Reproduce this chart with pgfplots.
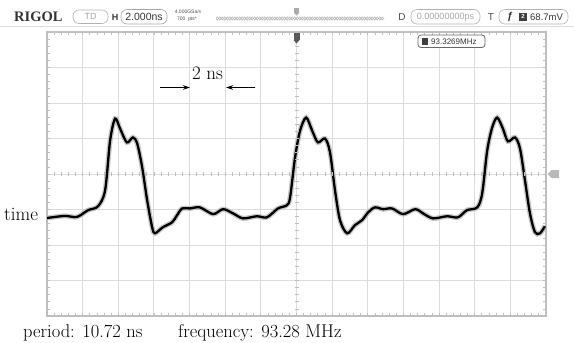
\documentclass[border=0pt]{standalone}
\usepackage{pgfplots}
\pgfplotsset{compat=1.18}
\usepackage{pgfplotstable}
\usepackage{fontspec}
\newfontfamily\osc{Liberation Sans}
\newfontfamily\rig{Liberation Serif}
\usetikzlibrary{decorations.pathmorphing,arrows.meta}
\definecolor{gridc}{HTML}{DCDCDC}
\definecolor{bordc}{HTML}{BEBEBE}
\pgfplotstableread{
x y
0.00 2.76
0.50 2.82
0.84 2.79
1.15 2.98
1.43 3.09
1.63 3.54
1.77 4.94
1.91 5.56
2.05 5.28
2.24 4.89
2.41 5.03
2.53 4.86
2.67 4.19
2.81 3.26
2.95 2.50
3.03 2.33
3.25 2.50
3.51 2.64
3.65 2.84
3.79 3.03
4.01 3.03
4.29 3.06
4.66 2.87
4.94 3.01
5.22 2.89
5.50 2.75
5.89 2.81
6.17 2.78
6.48 3.03
6.73 3.12
6.82 3.34
6.96 4.47
7.10 5.22
7.27 5.59
7.44 5.22
7.60 4.89
7.80 5.00
7.94 4.61
8.08 3.54
8.22 2.70
8.42 2.33
8.64 2.56
8.84 2.70
9.01 2.92
9.20 3.06
9.43 3.01
9.68 3.03
9.99 2.87
10.33 3.01
10.55 2.89
10.83 2.75
11.22 2.81
11.53 2.78
11.78 2.98
12.07 3.06
12.21 3.46
12.35 4.66
12.49 5.31
12.63 5.59
12.79 5.28
12.93 4.92
13.13 5.03
13.27 4.72
13.41 3.82
13.55 2.89
13.69 2.36
13.83 2.33
13.97 2.53
}\wave
\begin{document}
\begin{tikzpicture}
\begin{axis}[at={(47bp,-316bp)}, anchor=south west, scale only axis,
  width=499bp, height=284bp, xmin=0, xmax=14, ymin=0, ymax=8,
  xtick={0,...,14}, ytick={0,...,8}, xticklabels={}, yticklabels={},
  grid=major, major grid style={draw=gridc, line width=1bp},
  minor x tick num=4, minor y tick num=4, tick align=inside,
  major tick length=3bp, minor tick length=3bp,
  every tick/.style={draw=bordc, line width=0.8bp},
  axis line style={draw=bordc, line width=1.2bp}]
\addplot[gray!55, line width=5bp, smooth, opacity=0.8] table {\wave};
\addplot[black, line width=2.3bp, smooth] table {\wave};
\end{axis}
\begin{axis}[at={(47bp,-316bp)}, anchor=south west, scale only axis,
  width=499bp, height=284bp, xmin=-7, xmax=7, ymin=-4, ymax=4,
  axis lines=center, axis line style={draw=none},
  xtick={-6.8,-6.6,...,6.9}, ytick={-3.8,-3.6,...,3.9},
  xticklabels={}, yticklabels={},
  tick align=center, major tick length=4bp,
  every tick/.style={draw=bordc, line width=0.8bp}]
\addplot[draw=none] coordinates {(0,0)};
\end{axis}
\begin{scope}[x=1bp,y=-1bp]
\path[use as bounding box] (0,0) rectangle (574,342);
\draw[gridc, line width=0.8bp] (0,26.5) -- (574,26.5);
% top bar
\node[anchor=base west, inner sep=0, font=\rig\bfseries\fontsize{14.5bp}{15bp}\selectfont, text=black!80] at (14,21) {RIGOL};
\draw[gray!60, line width=0.6bp, rounded corners=6bp] (73,10) rectangle (108,23.5);
\node[font=\osc\fontsize{9bp}{9bp}\selectfont, text=gray!70] at (90.5,16.8) {TD};
\node[font=\osc\bfseries\fontsize{9bp}{9bp}\selectfont, text=black!80] at (115,17) {H};
\draw[gray!70, line width=0.6bp, rounded corners=6bp] (121,9.5) rectangle (167,24);
\node[font=\osc\fontsize{10.5bp}{10bp}\selectfont, text=black!80] at (144,16.8) {2.000ns};
\node[font=\osc\fontsize{5bp}{5bp}\selectfont, text=black!70] at (188,12) {4.000GSa/s};
\node[font=\osc\fontsize{5bp}{5bp}\selectfont, text=black!70] at (187,19.5) {700\ \ pts*};
\draw[gray!60, line width=0.6bp, decorate, decoration={zigzag, segment length=5bp, amplitude=1.6bp}] (216,18.5) -- (384,18.5);
\draw[gray!60, line width=0.6bp, decorate, decoration={zigzag, segment length=5bp, amplitude=-1.6bp}] (216,18.5) -- (384,18.5);
\fill[gray!65] (294,8) rectangle (299,13);
\fill[gray!65] (294,13) -- (299,13) -- (296.5,15.5) -- cycle;
\node[font=\osc\fontsize{10bp}{10bp}\selectfont, text=black!70] at (402,17) {D};
\draw[gray!60, line width=0.6bp, rounded corners=6bp] (411,9.5) rectangle (480,24);
\node[font=\osc\fontsize{9bp}{9bp}\selectfont, text=gray!70] at (445.5,16.8) {0.00000000ps};
\node[font=\osc\fontsize{10bp}{10bp}\selectfont, text=black!70] at (491,17) {T};
\draw[gray!60, line width=0.6bp, rounded corners=6bp] (499,9.5) rectangle (568,24);
\node[font=\osc\itshape\bfseries\fontsize{10bp}{10bp}\selectfont, text=black!80] at (510,17) {ƒ};
\fill[black!75] (519,12.5) rectangle (527,21);
\node[font=\osc\bfseries\fontsize{6bp}{6bp}\selectfont, text=white] at (523,16.8) {2};
\node[anchor=west, inner sep=0, font=\osc\fontsize{9.5bp}{9.5bp}\selectfont, text=black!80] at (530,16.8) {68.7mV};
% frequency box
\draw[black!60, fill=white, line width=0.8bp, rounded corners=3bp] (418,35) rectangle (485,47.5);
\fill[black!75] (421.5,37.5) rectangle (428,45);
\node[font=\osc\fontsize{8bp}{8bp}\selectfont, text=black!80, anchor=west, inner sep=0] at (431,41.3) {93.3269MHz};
% trigger markers
\fill[black!65] (293.5,33) rectangle (299.5,40);
\fill[black!65] (293.5,40) -- (299.5,40) -- (296.5,43.5) -- cycle;
\fill[gray!55] (547.5,174) -- (551.5,170) -- (559,170) -- (559,178) -- (551.5,178) -- cycle;
% annotations
\node[anchor=base, inner sep=0, font=\fontsize{19bp}{21bp}\selectfont] at (207.5,79) {2 ns};
\draw[-{Stealth[length=7bp,width=4.5bp]}, line width=0.9bp] (160,87.5) -- (190,87.5);
\draw[-{Stealth[length=7bp,width=4.5bp]}, line width=0.9bp] (255,87.5) -- (226,87.5);
\node[anchor=base west, inner sep=0, font=\fontsize{19bp}{21bp}\selectfont] at (4,220) {time};
\node[anchor=base west, inner sep=0, font=\fontsize{18.5bp}{21bp}\selectfont] at (23,337) {period: 10.72 ns};
\node[anchor=base west, inner sep=0, font=\fontsize{18.5bp}{21bp}\selectfont] at (178,337) {frequency: 93.28 MHz};
\end{scope}
\end{tikzpicture}
\end{document}
